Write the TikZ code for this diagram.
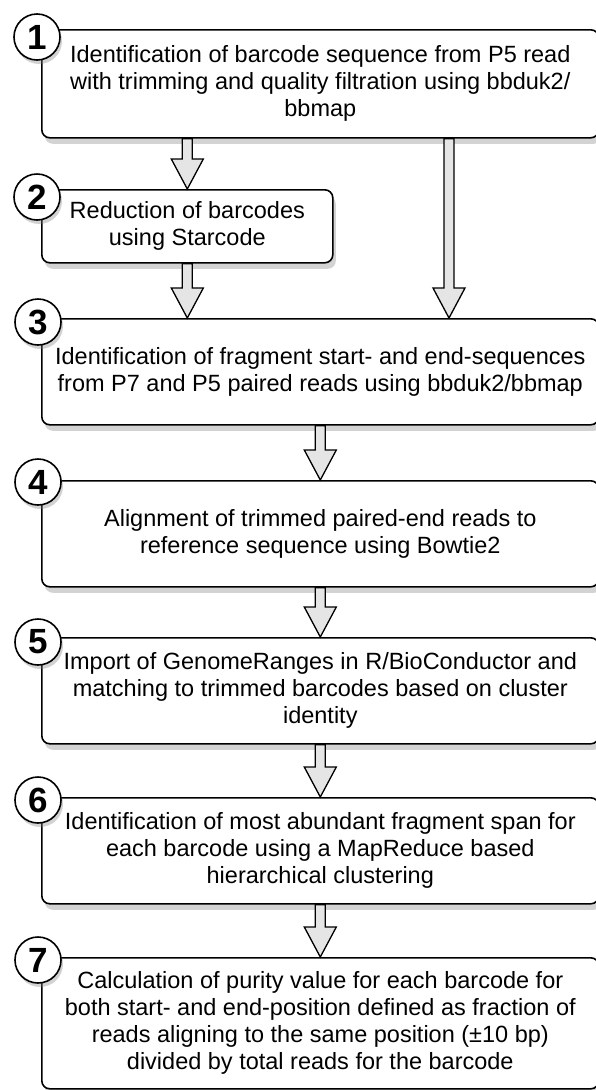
\documentclass[tikz,border=0pt]{standalone}
\usepackage{fontspec}
\setmainfont{Liberation Sans}
\usetikzlibrary{positioning,shadows,calc}

\begin{document}
\begin{tikzpicture}[x=1pt,y=-1pt]
		\tikzstyle{stepbox}=[draw=black, line width=1.6pt, fill=white, rounded corners=8pt, anchor=north west, align=center, inner sep=0pt, minimum width=557pt, font=\fontsize{23.5}{27}\selectfont, drop shadow={opacity=0.35, shadow xshift=3pt, shadow yshift=-6pt}]
		\tikzstyle{stepnum}=[circle, draw=black, line width=1.6pt, fill=white, minimum size=46pt, inner sep=0pt, font=\fontsize{35}{35}\selectfont\bfseries, drop shadow={opacity=0.35, shadow xshift=2pt, shadow yshift=-4pt}]
		\tikzstyle{blockarrow}=[draw=black, fill=black!10, line width=1.3pt, line join=miter, to path={let \p1=(\tikztostart), \p2=(\tikztotarget) in (\x1-5pt,\y1) -- (\x1-5pt,\y2+30pt) -- (\x1-16pt,\y2+30pt) -- (\x1,\y2) -- (\x1+16pt,\y2+30pt) -- (\x1+5pt,\y2+30pt) -- (\x1+5pt,\y1) -- cycle}]
		\useasboundingbox (0,0) rectangle (596,1090);
		% steps
		\node [stepbox, minimum height=108pt] (b1) at (41,29) {Identification of barcode sequence from P5 read\\with trimming and quality filtration using bbduk2/\\bbmap};
		\node [stepbox, minimum height=73pt, minimum width=291pt] (b2) at (41,189) {Reduction of barcodes\\using Starcode};
		\node [stepbox, minimum height=106pt] (b3) at (41,318) {Identification of fragment start- and end-sequences\\from P7 and P5 paired reads using bbduk2/bbmap};
		\node [stepbox, minimum height=106pt] (b4) at (41,480) {Alignment of trimmed paired-end reads to\\reference sequence using Bowtie2};
		\node [stepbox, minimum height=106pt] (b5) at (41,637) {Import of GenomeRanges in R/BioConductor and\\matching to trimmed barcodes based on cluster\\identity};
		\node [stepbox, minimum height=106pt] (b6) at (41,797) {Identification of most abundant fragment span for\\each barcode using a MapReduce based\\hierarchical clustering};
		\node [stepbox, minimum height=131pt] (b7) at (41,957) {Calculation of purity value for each barcode for\\both start- and end-position defined as fraction of\\reads aligning to the same position (±10 bp)\\divided by total reads for the barcode};
		% numbers
		\node [stepnum] (n1) at (37,37) {1};
		\node [stepnum] (n2) at (37,197) {2};
		\node [stepnum] (n3) at (38,322) {3};
		\node [stepnum] (n4) at (38,482) {4};
		\node [stepnum] (n5) at (38,642) {5};
		\node [stepnum] (n6) at (38,800) {6};
		\node [stepnum] (n7) at (38,960) {7};
		% arrows
		\coordinate (skip) at (449,0);
		\path[blockarrow] (b1.south -| b2.north) to (b2.north);
		\path[blockarrow] (b1.south -| skip) to (b3.north -| skip);
		\path[blockarrow] (b2.south) to (b3.north -| b2.south);
		\path[blockarrow] (b3.south) to (b4.north);
		\path[blockarrow] (b4.south) to (b5.north);
		\path[blockarrow] (b5.south) to (b6.north);
		\path[blockarrow] (b6.south) to (b7.north);
\end{tikzpicture}
\end{document}
